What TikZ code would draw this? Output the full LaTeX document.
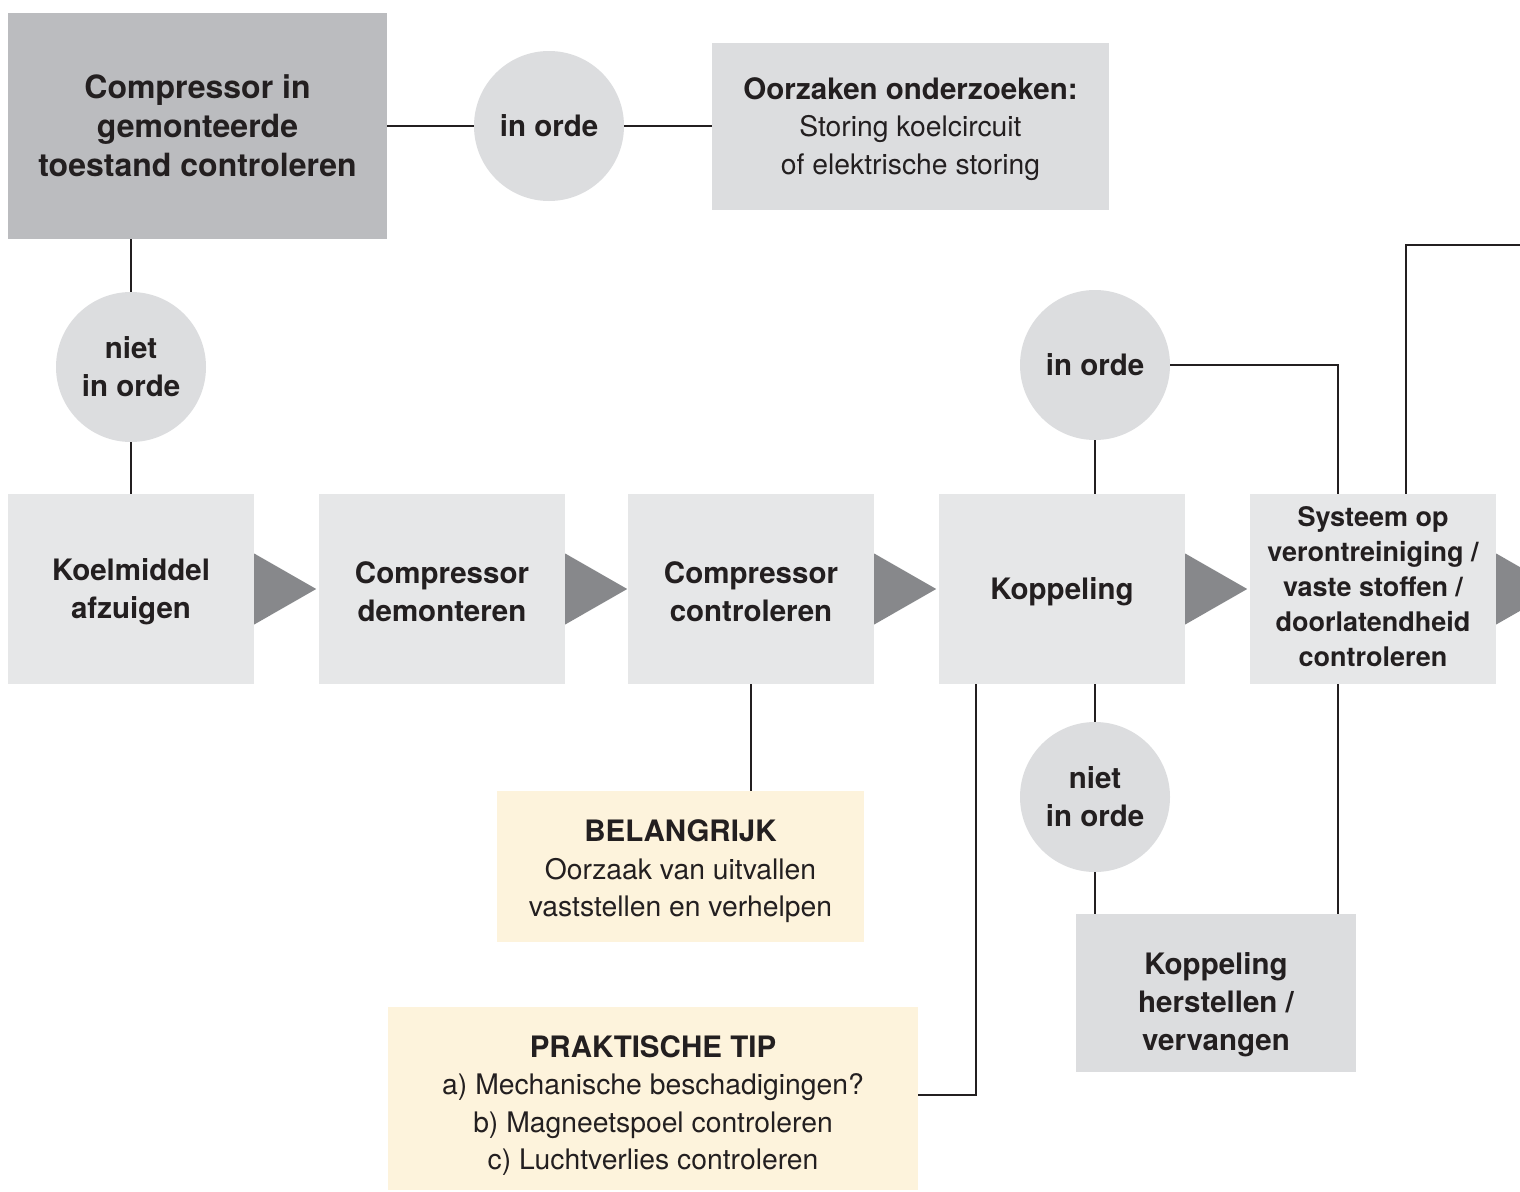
\documentclass[tikz,border=0pt]{standalone}
\usepackage{fontspec}
\setmainfont{TeX Gyre Heros}
\definecolor{boxdark}{HTML}{BBBCBF}
\definecolor{boxlite}{HTML}{E6E7E8}
\definecolor{boxmid}{HTML}{DCDDDF}
\definecolor{tricol}{HTML}{87888B}
\definecolor{cream}{HTML}{FDF3DC}
\definecolor{ink}{HTML}{231F20}
\newcommand\fntTop{\fontsize{32}{39}\selectfont\bfseries}
\newcommand\fntBold{\fontsize{29.5}{38}\selectfont\bfseries}
\newcommand\fntSys{\fontsize{27}{35}\selectfont\bfseries}
\newcommand\fntReg{\fontsize{28.3}{37.5}\selectfont}
\newcommand\fntHead{\fontsize{29.5}{37.5}\selectfont\bfseries}
\begin{document}
\begin{tikzpicture}[x=1pt,y=-1pt,
  basebox/.style={inner sep=0, align=center, text=ink},
  rowbox/.style={basebox, fill=boxlite, minimum width=246, minimum height=190},
  boxtext/.style={inner sep=0, align=center, text=ink},
  decision/.style={circle, inner sep=0, align=center, text=ink, fill=boxmid, minimum size=150, font=\fntBold},
  link/.style={draw=ink, line width=2.6pt},
  flowtri/.style={fill=tricol, draw=none}]
\clip (0,0) rectangle (1520,1191);
\fill[white] (0,0) rectangle (1520,1191);

% boxes and circles
\node[basebox, fill=boxdark, minimum width=379, minimum height=226, font=\fntTop] (top) at (197.5,126) {Compressor in\\gemonteerde\\toestand controleren};
\node[decision] (c1) at (549,126) {in orde};
\node[basebox, fill=boxmid, minimum width=397, minimum height=167] (oorz) at (910.5,126) {};
\node[decision] (c2) at (131,367) {niet\\in orde};

\node[rowbox] (k1) at (131,589) {};
\node[rowbox] (k2) at (442,589) {};
\node[rowbox] (k3) at (751,589) {};
\node[rowbox] (k4) at (1062,589) {};
\node[rowbox] (k5) at (1373,589) {};

\node[decision] (c3) at (1095,365) {in orde};
\node[decision] (c4) at (1095,797) {niet\\in orde};
\node[basebox, fill=boxmid, minimum width=280, minimum height=158] (her) at (1216,993) {};

\node[basebox, fill=cream, minimum width=367, minimum height=151] (bel) at (680.5,866.5) {};
\node[basebox, fill=cream, minimum width=530, minimum height=183] (tip) at (653,1098.5) {};

% box texts
\node[boxtext, font=\fntReg] (oorzText) at ([yshift=-3pt]oorz.center) {{\fntHead Oorzaken onderzoeken:}\\Storing koelcircuit\\of elektrische storing};
\node[boxtext, font=\fntBold] (k1Text) at ([yshift=-2.5pt]k1.center) {Koelmiddel\\afzuigen};
\node[boxtext, font=\fntBold] (k2Text) at ([yshift=-2.5pt]k2.center) {Compressor\\demonteren};
\node[boxtext, font=\fntBold] (k3Text) at ([yshift=-2.5pt]k3.center) {Compressor\\controleren};
\node[boxtext, font=\fntBold] (k4Text) at ([yshift=-3pt]k4.center) {Koppeling};
\node[boxtext, font=\fntSys] (k5Text) at ([yshift=2.5pt]k5.center) {Systeem op\\verontreiniging /\\vaste stoffen /\\doorlatendheid\\controleren};
\node[boxtext, font=\fntBold] (herText) at ([yshift=-12pt]her.center) {Koppeling\\herstellen /\\vervangen};
\node[boxtext, font=\fntReg] (belText) at ([yshift=-5pt]bel.center) {{\fntHead BELANGRIJK}\\Oorzaak van uitvallen\\vaststellen en verhelpen};
\node[boxtext, font=\fntReg] (tipText) at ([yshift=-7pt]tip.center) {{\fntHead PRAKTISCHE TIP}\\a) Mechanische beschadigingen?\\b) Magneetspoel controleren\\c) Luchtverlies controleren};

\coordinate (exit) at (1520,245);

% flow triangles
\foreach \b in {k1,k2,k3,k4,k5}{
  \fill[flowtri] ([yshift=-35.5pt]\b.east) -- ([xshift=62pt]\b.east) -- ([yshift=35.5pt]\b.east) -- cycle;
}

% connectors
\draw[link] (top.east) -- (c1.west);
\draw[link] (c1.east) -- (oorz.west);
\draw[link] (c2.north) -- (c2.north |- top.south);
\draw[link] (c2.south) -- (k1.north);
\draw[link] (c3.south) -- (c3.south |- k4.north);
\draw[link] (c3.east) -| ([xshift=-35pt]k5.north);
\draw[link] ([xshift=33pt]k5.north) |- (exit);
\draw[link] (c4.north) -- (c4.north |- k4.south);
\draw[link] (c4.south) -- (c4.south |- her.north);
\draw[link] ([xshift=-35pt]k5.south) -- ([xshift=-35pt]k5.south |- her.north);
\draw[link] (k3.south) -- (k3.south |- bel.north);
\draw[link] ([yshift=3.5pt]tip.east) -| ([xshift=-86pt]k4.south);
\end{tikzpicture}
\end{document}
